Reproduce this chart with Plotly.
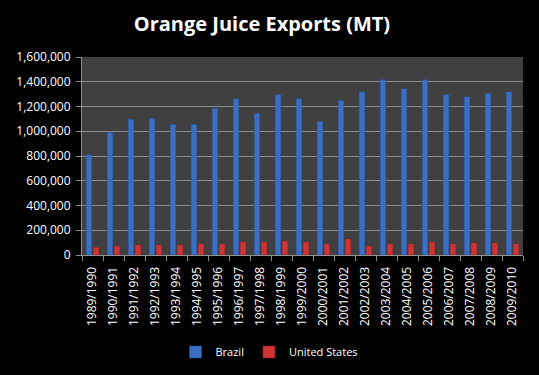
import plotly.graph_objects as go

seasons = ["1989/1990", "1990/1991", "1991/1992", "1992/1993", "1993/1994", "1994/1995",
           "1995/1996", "1996/1997", "1997/1998", "1998/1999", "1999/2000", "2000/2001",
           "2001/2002", "2002/2003", "2003/2004", "2004/2005", "2005/2006", "2006/2007",
           "2007/2008", "2008/2009", "2009/2010"]
brazil = [810000, 990000, 1096000, 1104000, 1056000, 1056000, 1185000, 1263000, 1145000,
          1298000, 1263000, 1080000, 1250000, 1320000, 1417000, 1344000, 1417000, 1298000,
          1279000, 1306000, 1320000]
united_states = [62000, 73000, 81000, 81000, 81000, 89000, 89000, 105000, 105000,
                 113000, 105000, 89000, 129000, 73000, 89000, 89000, 105000, 89000,
                 97000, 97000, 89000]
y_ticks = [0, 200000, 400000, 600000, 800000, 1000000, 1200000, 1400000, 1600000]

font_family = "Open Sans, Noto Sans, sans-serif"

fig = go.Figure()
fig.add_trace(go.Bar(x=seasons, y=brazil, name="Brazil",
                     marker=dict(color="#3b6fc4", line=dict(color="#2a4f90", width=0.5))))
fig.add_trace(go.Bar(x=seasons, y=united_states, name="United States",
                     marker=dict(color="#d03535", line=dict(color="#902020", width=0.5))))

fig.update_layout(
    width=539, height=375,
    paper_bgcolor="black", plot_bgcolor="#404040",
    margin=dict(l=82, r=16, t=57, b=120, autoexpand=False),
    barmode="group", bargap=0.33, bargroupgap=0.2,
    title=dict(text="<b>Orange Juice Exports (MT)</b>", x=0.486, xanchor="center",
               y=0.935, yanchor="middle",
               font=dict(family=font_family, size=20, color="white")),
    font=dict(family=font_family, color="white", size=12),
    legend=dict(orientation="h", xref="container", x=0.5, xanchor="center",
                y=-0.49, yanchor="middle",
                font=dict(size=11, color="white"), bgcolor="rgba(0,0,0,0)",
                itemwidth=30, traceorder="normal"),
    showlegend=True,
)
fig.update_xaxes(type="category", tickangle=-90, showline=True, linecolor="#909090",
                 ticks="outside", tickcolor="#909090", ticklen=5,
                 tickson="boundaries", showgrid=False, automargin=False,
                 ticklabelstandoff=6,
                 tickfont=dict(size=12, color="white"))
fig.update_yaxes(range=[0, 1600000], tickvals=y_ticks, tickformat=",d",
                 showgrid=True, gridcolor="#8c8c8c", gridwidth=1,
                 showline=True, linecolor="#909090", ticks="outside",
                 tickcolor="#909090", ticklen=5, zeroline=False, automargin=False,
                 ticklabelstandoff=3,
                 tickfont=dict(size=12, color="white"))

fig.write_html("out.html", config={"displayModeBar": False},
               post_script="document.body.style.margin='0';document.body.style.background='black';")
